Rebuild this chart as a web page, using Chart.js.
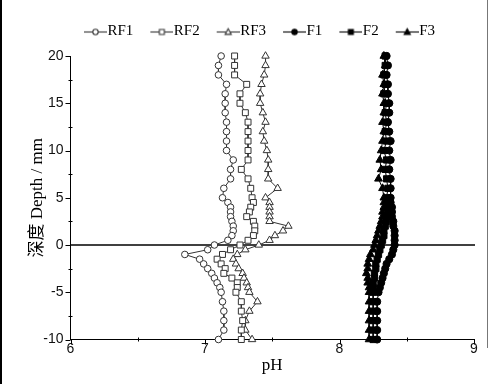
<!DOCTYPE html>
<html><head><meta charset="utf-8">
<script src="https://cdn.jsdelivr.net/npm/chart.js@4"></script>
<style>
html,body{margin:0;padding:0;background:#fff;}
#wrap{position:relative;width:491px;height:384px;overflow:hidden;}
#c{display:block;}
.edgeL{position:absolute;left:0;top:0;width:2px;height:384px;background:#000;}
.edgeR{position:absolute;left:487px;top:0;width:1px;height:348px;background:#777;}
</style></head><body>
<div id="wrap"><canvas id="c" width="491" height="384"></canvas><div class="edgeL"></div><div class="edgeR"></div></div>
<script>
// ---- data (depth in mm, pH) ----
const depths = [20,19,18,17,16,15,14,13,12,11,10,9,8,7,6,5,4.5,4,3.5,3,2.5,2,1.5,1,0.5,0,-0.5,-1,-1.5,-2,-2.5,-3,-3.5,-4,-4.5,-5,-6,-7,-8,-9,-10];
const seriesNames = ['RF1','RF2','RF3','F1','F2','F3'];
const RF1 = [7.12,7.10,7.10,7.16,7.15,7.15,7.15,7.16,7.16,7.16,7.16,7.21,7.19,7.19,7.14,7.13,7.17,7.19,7.19,7.19,7.20,7.21,7.21,7.20,7.17,7.07,7.02,6.85,6.96,6.99,7.02,7.05,7.07,7.09,7.11,7.12,7.13,7.14,7.14,7.14,7.10];
const RF2 = [7.22,7.22,7.22,7.31,7.26,7.26,7.30,7.32,7.32,7.32,7.32,7.32,7.27,7.32,7.34,7.35,7.36,7.34,7.33,7.31,7.36,7.37,7.37,7.36,7.32,7.26,7.19,7.13,7.09,7.12,7.15,7.14,7.20,7.24,7.24,7.23,7.27,7.27,7.28,7.27,7.27];
const RF3 = [7.45,7.45,7.44,7.42,7.41,7.41,7.43,7.45,7.43,7.44,7.46,7.47,7.47,7.47,7.54,7.45,7.48,7.48,7.48,7.48,7.48,7.62,7.58,7.52,7.48,7.40,7.30,7.24,7.21,7.23,7.25,7.28,7.29,7.31,7.32,7.33,7.39,7.33,7.30,7.30,7.35];
const F1 = [8.35,8.36,8.35,8.36,8.36,8.37,8.37,8.36,8.37,8.38,8.37,8.38,8.37,8.38,8.38,8.38,8.38,8.39,8.39,8.39,8.40,8.40,8.41,8.41,8.41,8.41,8.40,8.39,8.37,8.35,8.34,8.33,8.32,8.31,8.30,8.29,8.28,8.28,8.28,8.28,8.28];
const F2 = [8.34,8.34,8.33,8.34,8.33,8.35,8.34,8.35,8.34,8.35,8.33,8.35,8.34,8.35,8.36,8.35,8.36,8.35,8.36,8.35,8.35,8.34,8.33,8.33,8.32,8.31,8.30,8.29,8.28,8.27,8.27,8.26,8.26,8.25,8.25,8.25,8.25,8.25,8.25,8.25,8.25];
const F3 = [8.33,8.34,8.32,8.33,8.32,8.33,8.33,8.32,8.33,8.32,8.31,8.30,8.31,8.29,8.32,8.33,8.33,8.33,8.32,8.32,8.31,8.30,8.29,8.28,8.27,8.26,8.25,8.23,8.22,8.21,8.21,8.20,8.21,8.21,8.22,8.22,8.22,8.22,8.22,8.22,8.22];
const xRange = [6, 9];
const yRange = [-10, 20];
const xTitle = 'pH';
const yTitle = '深度 Depth / mm';

const seriesValues = [RF1, RF2, RF3, F1, F2, F3];
const seriesStyle = [
  {shape:'circle', filled:false, r:3.3},
  {shape:'rect', filled:false, r:4.2},
  {shape:'triangle', filled:false, r:4.3},
  {shape:'circle', filled:true, r:3.6},
  {shape:'rect', filled:true, r:4.4},
  {shape:'triangle', filled:true, r:4.5}
];

function makeIcon(st){
  const col = st.filled ? '#000' : '#333';
  const c = document.createElement('canvas'); c.width = 34; c.height = 12;
  const g = c.getContext('2d');
  g.strokeStyle = col; g.lineWidth = 1.1;
  g.beginPath(); g.moveTo(11, 6.5); g.lineTo(34, 6.5); g.stroke();
  const cx = 22.5, cy = 6.5;
  g.fillStyle = st.filled ? col : '#fff';
  g.beginPath();
  if (st.shape === 'circle') g.arc(cx, cy, 2.7, 0, Math.PI*2);
  else if (st.shape === 'rect') g.rect(cx-2.5, cy-2.5, 5, 5);
  else { g.moveTo(cx, cy-3.3); g.lineTo(cx+3.1, cy+2.4); g.lineTo(cx-3.1, cy+2.4); g.closePath(); }
  g.fill(); g.stroke();
  return c;
}
const icons = seriesStyle.map(makeIcon);

const datasets = seriesNames.map((name, i) => {
  const st = seriesStyle[i];
  const col = st.filled ? '#000' : '#333';
  return {
    label: name,
    data: depths.map((d, k) => ({x: seriesValues[i][k], y: d})),
    showLine: true,
    borderColor: col,
    borderWidth: 1,
    pointStyle: st.shape,
    pointRadius: st.r,
    pointHoverRadius: st.r,
    pointBackgroundColor: st.filled ? '#000' : '#fff',
    pointBorderColor: col,
    pointBorderWidth: 1,
    clip: false
  };
});

const legendPad = {
  id: 'legendPad',
  beforeLayout(chart) {
    const lg = chart.legend;
    if (lg && !lg.__p) {
      const f = lg.fit;
      lg.fit = function(){ f.call(this); this.height += 7; };
      lg.__p = true;
    }
  }
};

const axisMarks = {
  id: 'axisMarks',
  beforeDatasetsDraw(chart) {
    const {ctx, chartArea: ca, scales: {y}} = chart;
    const y0 = y.getPixelForValue(0);
    ctx.save();
    ctx.strokeStyle = '#000'; ctx.lineWidth = 1.4;
    ctx.beginPath(); ctx.moveTo(ca.left, y0); ctx.lineTo(ca.right + 1, y0); ctx.stroke();
    ctx.restore();
  },
  afterDraw(chart) {
    const {ctx, chartArea: ca, scales: {x, y}} = chart;
    ctx.save();
    ctx.strokeStyle = '#000'; ctx.lineWidth = 1;
    x.ticks.forEach(t => {
      const px = Math.round(x.getPixelForValue(t.value)) + 0.5;
      const major = Number.isInteger(t.value);
      ctx.beginPath();
      if (major) { ctx.moveTo(px, ca.bottom); ctx.lineTo(px, ca.bottom + 5); }
      else { ctx.moveTo(px, ca.bottom - 2); ctx.lineTo(px, ca.bottom + 2); }
      ctx.stroke();
    });
    y.ticks.forEach(t => {
      const py = Math.round(y.getPixelForValue(t.value)) + 0.5;
      const major = t.value % 5 === 0;
      ctx.beginPath();
      if (major) { ctx.moveTo(ca.left - 5, py); ctx.lineTo(ca.left, py); }
      else { ctx.moveTo(ca.left - 2, py); ctx.lineTo(ca.left + 2, py); }
      ctx.stroke();
    });
    ctx.restore();
  }
};

const tickFont = {family: "'Liberation Sans', Arial, sans-serif", size: 14};
const titleFont = {family: "'Liberation Serif', 'Noto Sans CJK SC', serif", size: 17};

new Chart(document.getElementById('c'), {
  type: 'scatter',
  data: {datasets},
  options: {
    responsive: false,
    animation: false,
    devicePixelRatio: 1,
    layout: {padding: {left: 41, right: 17, top: 11, bottom: 9.5}},
    plugins: {
      tooltip: {enabled: false},
      legend: {
        position: 'top',
        align: 'center',
        labels: {
          usePointStyle: true,
          pointStyleWidth: 20,
          padding: 13,
          color: '#000',
          font: {family: "'Liberation Serif', serif", size: 15},
          generateLabels(chart) {
            const items = Chart.defaults.plugins.legend.labels.generateLabels(chart);
            items.forEach((it, i) => { it.pointStyle = icons[i]; });
            return items;
          }
        }
      }
    },
    scales: {
      x: {
        type: 'linear', min: xRange[0], max: xRange[1],
        ticks: {stepSize: 0.5, autoSkip: false, maxRotation: 0, padding: 1, color: '#111', font: tickFont,
          callback: v => Number.isInteger(v) ? String(v) : ''},
        grid: {display: false, drawTicks: false},
        border: {display: true, color: '#000', width: 1},
        title: {display: true, text: xTitle, color: '#000', font: titleFont, padding: {top: 0, bottom: -1}},
        afterFit(s) { s.height = 35; }
      },
      y: {
        type: 'linear', min: yRange[0], max: yRange[1],
        ticks: {stepSize: 2.5, autoSkip: false, padding: 7, color: '#111', font: tickFont,
          callback: v => (v % 5 === 0) ? String(v) : ''},
        grid: {display: false, drawTicks: false},
        border: {display: true, color: '#000', width: 1},
        title: {display: true, text: yTitle, color: '#000', font: titleFont, padding: {top: -14, bottom: 0}},
        afterFit(s) { s.width = 29.5; }
      }
    }
  },
  plugins: [legendPad, axisMarks]
});
</script>
</body></html>
